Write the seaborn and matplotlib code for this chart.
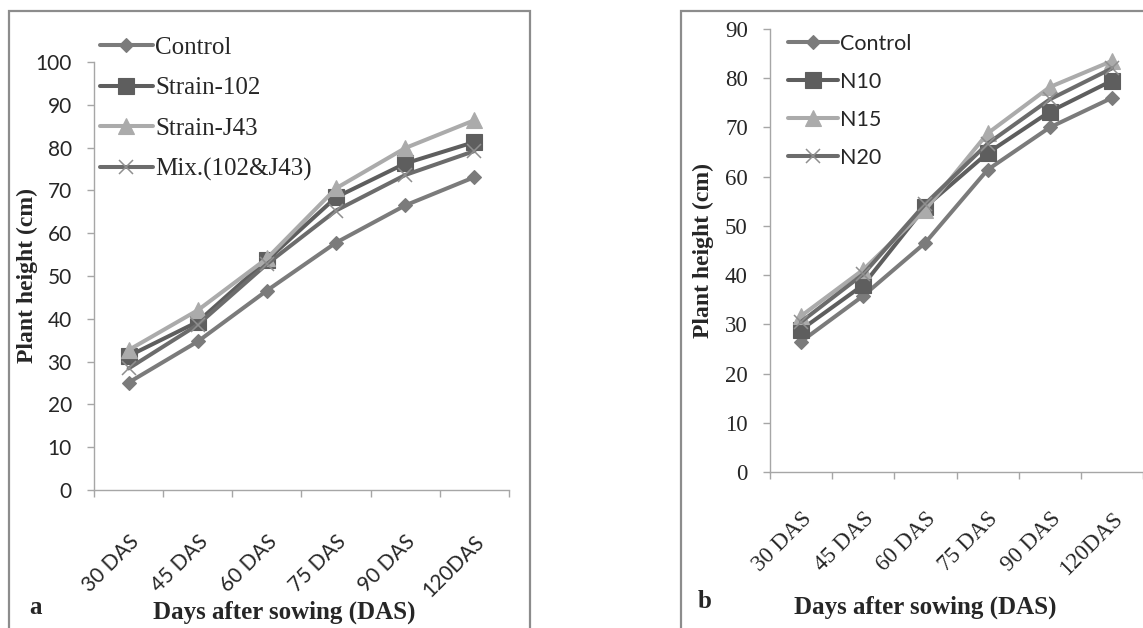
import numpy as np
import pandas as pd
import matplotlib
matplotlib.use("Agg")
import matplotlib.pyplot as plt
from matplotlib.patches import Rectangle
from matplotlib.ticker import FixedLocator, NullFormatter
import seaborn as sns

# ---- data -------------------------------------------------------------
categories = ["30 DAS", "45 DAS", "60 DAS", "75 DAS", "90 DAS", "120DAS"]

# panel a: bio-inoculant strains
series_a = ["Control", "Strain-102", "Strain-J43", "Mix.(102&J43)"]
control_a = [25.1, 34.7, 46.6, 57.8, 66.5, 73.1]
strain_102 = [31.3, 39.3, 53.7, 68.4, 76.3, 81.3]
strain_j43 = [32.7, 42.0, 54.1, 70.5, 79.9, 86.4]
mix_102_j43 = [28.4, 38.6, 52.8, 65.3, 73.6, 79.2]

# panel b: nitrogen levels
series_b = ["Control", "N10", "N15", "N20"]
control_b = [26.5, 35.8, 46.6, 61.4, 70.0, 76.0]
n10 = [28.9, 38.0, 53.9, 64.8, 73.2, 79.5]
n15 = [31.7, 41.1, 53.3, 68.8, 78.2, 83.5]
n20 = [30.5, 40.2, 54.5, 66.7, 75.7, 82.0]

yticks_a = list(range(0, 101, 10))
yticks_b = list(range(0, 91, 10))

# ---- styling ---------------------------------------------------------
sns.set_style("white")
plt.rcParams["font.family"] = ["Liberation Serif", "DejaVu Serif"]

SERIF = "Liberation Serif"
SANS = "Lato"

# (line colour, marker, marker size, marker colour, marker edge width)
styles = [
    ("#7b7b7b", "D", 6.8, "#7b7b7b", 0.8),
    ("#5e5e5e", "s", 12.0, "#5e5e5e", 0.8),
    ("#ababab", "^", 11.5, "#ababab", 0.8),
    ("#6c6c6c", "x", 9.5, "#8f8f8f", 1.1),
]
AXIS_GREY = "#a6a6a6"

W, H = 1143, 628
fig = plt.figure(figsize=(W / 100, H / 100), dpi=100)


def px_rect(x0, y0, x1, y1):
    """Figure-fraction rectangle from pixel coordinates (origin top-left)."""
    return [x0 / W, 1 - y1 / H, (x1 - x0) / W, (y1 - y0) / H]


ax_a = fig.add_axes(px_rect(94, 62, 509, 490))
ax_b = fig.add_axes(px_rect(770, 29, 1143, 472))

# panel frames
fig.add_artist(Rectangle((9 / W, -0.05), (530 - 9) / W, 1.05 - 11 / H,
                         transform=fig.transFigure, fill=False,
                         edgecolor="#8c8c8c", linewidth=1.6))
fig.add_artist(Rectangle((681 / W, -0.05), 0.5, 1.05 - 11 / H,
                         transform=fig.transFigure, fill=False,
                         edgecolor="#8c8c8c", linewidth=1.6))

positions = np.arange(len(categories))


def draw_panel(ax, names, values, yticks, tick_font, tick_size,
               xtick_font, xtick_size, xpad):
    for name, vals, (lc, mk, ms, mc, mew) in zip(names, values, styles):
        df = pd.DataFrame({"pos": positions, "height": vals})
        sns.lineplot(data=df, x="pos", y="height", ax=ax, color=lc,
                     linewidth=2.9, marker=mk, markersize=ms,
                     markerfacecolor=mc, markeredgecolor=mc,
                     markeredgewidth=mew, label=name)

    ax.set_xlim(-0.5, len(categories) - 0.5)
    ax.set_ylim(yticks[0], yticks[-1])

    for side in ("top", "right"):
        ax.spines[side].set_visible(False)
    for side in ("left", "bottom"):
        ax.spines[side].set_color(AXIS_GREY)
        ax.spines[side].set_linewidth(1.0)

    ax.set_yticks(yticks)
    ax.set_yticklabels([str(t) for t in yticks], fontfamily=tick_font,
                       fontsize=tick_size)
    ax.tick_params(axis="y", which="major", direction="out", length=5,
                   width=1, color=AXIS_GREY, pad=11, left=True)

    # boundary ticks between categories, labels centred on categories
    ax.xaxis.set_major_locator(FixedLocator(np.arange(-0.5, len(categories), 1.0)))
    ax.xaxis.set_major_formatter(NullFormatter())
    ax.xaxis.set_minor_locator(FixedLocator(positions))
    ax.set_xticklabels(categories, minor=True, rotation=45, ha="right",
                       va="top", rotation_mode="anchor",
                       fontfamily=xtick_font, fontsize=xtick_size)
    ax.tick_params(axis="x", which="major", direction="out", length=5,
                   width=1, color=AXIS_GREY, bottom=True)
    ax.tick_params(axis="x", which="minor", length=0, pad=xpad)

    ax.set_xlabel("")
    ax.set_ylabel("")
    ax.grid(False)
    return ax


draw_panel(ax_a, series_a, [control_a, strain_102, strain_j43, mix_102_j43],
           yticks_a, SANS, 15, SANS, 15, 30)
draw_panel(ax_b, series_b, [control_b, n10, n15, n20],
           yticks_b, SERIF, 16.5, SERIF, 16.5, 26)

# legends
ax_a.legend(loc="upper left", bbox_to_anchor=(100 / W, 1 - 36 / H),
            bbox_transform=fig.transFigure, frameon=False,
            borderpad=0, borderaxespad=0, handlelength=2.1,
            handletextpad=0.1, labelspacing=0.73,
            prop={"family": SERIF, "size": 18})
ax_b.legend(loc="upper left", bbox_to_anchor=(788 / W, 1 - 34 / H),
            bbox_transform=fig.transFigure, frameon=False,
            borderpad=0, borderaxespad=0, handlelength=2.3,
            handletextpad=0.1, labelspacing=0.83,
            prop={"family": SANS, "size": 15.5})

# axis titles and panel letters
ylabel_kw = dict(fontfamily=SERIF, fontweight="bold", fontsize=17)
xlabel_kw = dict(fontfamily=SERIF, fontweight="bold", fontsize=18)
fig.text(27 / W, 1 - 275 / H, "Plant height (cm)", rotation=90,
         ha="center", va="center", **ylabel_kw)
fig.text(703 / W, 1 - 250 / H, "Plant height (cm)", rotation=90,
         ha="center", va="center", **ylabel_kw)
fig.text(284 / W, 1 - 612 / H, "Days after sowing (DAS)",
         ha="center", va="center", **xlabel_kw)
fig.text(925 / W, 1 - 607 / H, "Days after sowing (DAS)",
         ha="center", va="center", **xlabel_kw)
fig.text(36 / W, 1 - 607 / H, "a", ha="center", va="center",
         fontfamily=SERIF, fontweight="bold", fontsize=18)
fig.text(705 / W, 1 - 602 / H, "b", ha="center", va="center",
         fontfamily=SERIF, fontweight="bold", fontsize=18)

fig.savefig("out.png", dpi=100)
